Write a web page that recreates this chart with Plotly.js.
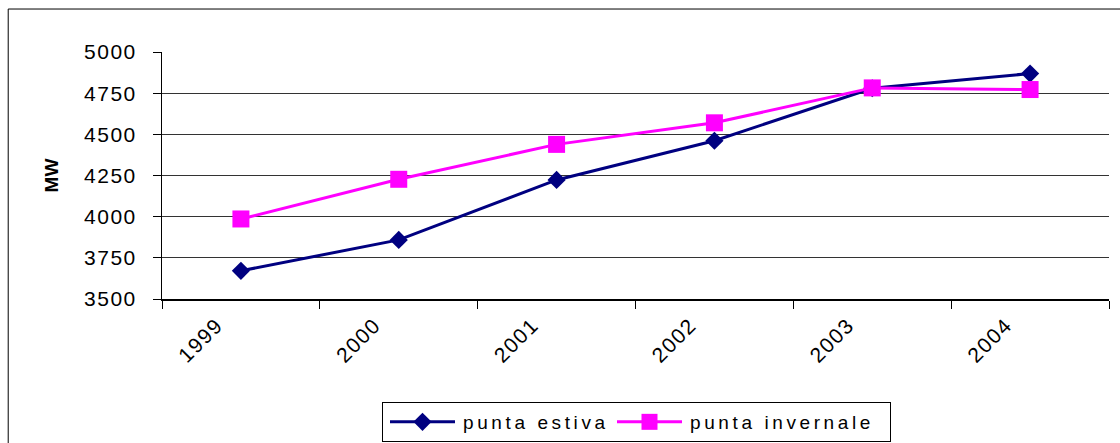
<!DOCTYPE html>
<html>
<head>
<meta charset="utf-8">
<script src="https://cdn.plot.ly/plotly-3.0.1.min.js"></script>
<style>
html,body{margin:0;padding:0;background:#fff;}
#chart{width:1120px;height:443px;}
</style>
</head>
<body>
<div id="chart"></div>
<script>
const years = ['1999','2000','2001','2002','2003','2004'];
const puntaEstiva = [3671, 3859, 4223, 4461, 4780, 4869];
const puntaInvernale = [3986, 4227, 4439, 4570, 4782, 4772];
const yTicks = [3500, 3750, 4000, 4250, 4500, 4750, 5000];
const gridVals = [3750, 4000, 4250, 4500, 4750];

const font = 'Liberation Sans, Arial, sans-serif';

const traces = [
  {
    x: years, y: puntaEstiva, name: 'punta estiva', type: 'scatter', mode: 'lines+markers',
    line: {color: '#000080', width: 3},
    marker: {symbol: 'diamond', size: 14, color: '#000080'}
  },
  {
    x: years, y: puntaInvernale, name: 'punta invernale', type: 'scatter', mode: 'lines+markers',
    line: {color: '#FF00FF', width: 3},
    marker: {symbol: 'square', size: 17, color: '#FF00FF'}
  },
  {
    x: years, y: puntaEstiva, yaxis: 'y2', type: 'scatter', mode: 'none',
    showlegend: false, hoverinfo: 'skip'
  }
];

const layout = {
  width: 1120, height: 443,
  margin: {l: 162, r: 11, t: 52, b: 144},
  paper_bgcolor: '#ffffff', plot_bgcolor: 'rgba(0,0,0,0)',
  font: {family: font, size: 19, color: '#000'},
  showlegend: true,
  legend: {
    orientation: 'h', x: 0.5, xanchor: 'center',
    yref: 'container', y: 0.0926, yanchor: 'top',
    bordercolor: '#000', borderwidth: 1, font: {family: font, size: 19},
    entrywidth: 182, entrywidthmode: 'pixels', tracegroupgap: 0
  },
  xaxis: {
    type: 'category', range: [-0.5, 5.5], tickson: 'boundaries', automargin: false,
    ticks: 'outside', ticklen: 8, tickcolor: '#000', tickwidth: 1,
    showline: true, linecolor: '#000', linewidth: 1.5,
    showgrid: false, tickangle: -45, ticklabelshift: -24, ticklabelstandoff: 4,
    tickfont: {family: font, size: 21}, zeroline: false
  },
  yaxis: {
    range: [3500, 5000], tickvals: yTicks, ticktext: yTicks.map(String), automargin: false,
    ticks: 'outside', ticklen: 8, tickcolor: '#000', tickwidth: 1,
    showline: true, linecolor: '#000', linewidth: 1,
    showgrid: false, zeroline: false, ticklabelstandoff: 12,
    tickfont: {family: font, size: 21},
    title: {text: '<b>MW</b>', font: {family: font, size: 19}, standoff: 26}
  },
  yaxis2: {
    overlaying: 'y', range: [3500, 5000], tickvals: gridVals, automargin: false,
    showgrid: true, gridcolor: '#333333', gridwidth: 1,
    showticklabels: false, showline: false, zeroline: false, ticks: ''
  },
  shapes: [{
    type: 'rect', xref: 'paper', yref: 'paper',
    x0: -0.1624, x1: 1.05, y0: -0.7, y1: 1.174,
    line: {color: '#000', width: 1}, fillcolor: 'rgba(0,0,0,0)', layer: 'below'
  }]
};

Plotly.newPlot('chart', traces, layout, {displayModeBar: false, staticPlot: true}).then(function (gd) {
  gd.querySelectorAll('.ytick text, .xtick text').forEach(function (t) {
    t.setAttribute('letter-spacing', '1.5');
    t.style.letterSpacing = '1.5px';
  });
  // legend styling: wider symbol samples, spaced text, wider box
  const leg = gd.querySelector('g.legend');
  if (leg) {
    const tr = leg.getAttribute('transform') || '';
    const m = tr.match(/translate\(\s*([-\d.]+)[ ,]+([-\d.]+)\s*\)/);
    const ly = m ? parseFloat(m[2]) : 402;
    leg.setAttribute('transform', 'translate(382,' + ly + ')');
    const bg = leg.querySelector('rect.bg');
    if (bg) bg.setAttribute('width', 508);
    document.querySelectorAll('clipPath[id^="legend"] rect').forEach(function (r) {
      r.setAttribute('width', 508);
    });
    leg.querySelectorAll('g.traces').forEach(function (g) {
      g.querySelectorAll('.legendlines path').forEach(function (p) { p.setAttribute('d', 'M7,0h65'); });
      g.querySelectorAll('.legendpoints path').forEach(function (p) { p.setAttribute('transform', 'translate(39.5,0)'); });
      const t = g.querySelector('.legendtext');
      if (t) {
        t.setAttribute('x', 80);
        t.setAttribute('letter-spacing', '3.6');
        t.style.letterSpacing = '3.6px';
      }
    });
  }
});
</script>
</body>
</html>
